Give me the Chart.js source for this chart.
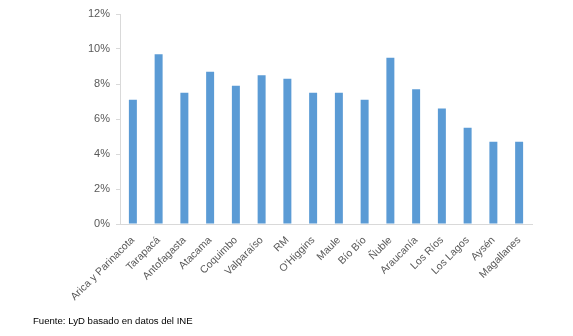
<!DOCTYPE html>
<html>
<head>
<meta charset="utf-8">
<script src="https://cdn.jsdelivr.net/npm/chart.js@4/dist/chart.umd.min.js"></script>
<style>
  html, body { margin: 0; padding: 0; background: #fff; }
  #wrap { position: relative; width: 573px; height: 336px; }
  #source { position: absolute; left: 33px; top: 315px; font: 9.6px "Liberation Sans", Arial, sans-serif; color: #000; }
</style>
</head>
<body>
<div id="wrap">
  <canvas id="chart" width="573" height="336"></canvas>
  <div id="source">Fuente: LyD basado en datos del INE</div>
</div>
<script>
// Regiones (categorías)
const regions = ['Arica y Parinacota', 'Tarapacá', 'Antofagasta', 'Atacama', 'Coquimbo', 'Valparaíso', 'RM',
  "O'Higgins", 'Maule', 'Bío Bío', 'Ñuble', 'Araucanía', 'Los Ríos', 'Los Lagos', 'Aysén', 'Magallanes'];

// Tasa de desempleo (%)
const rates = [7.1, 9.7, 7.5, 8.7, 7.9, 8.5, 8.3, 7.5, 7.5, 7.1, 9.5, 7.7, 6.6, 5.5, 4.7, 4.7];

// Eje Y
const yMin = 0;
const yMax = 12;
const yStep = 2;

const ctx = document.getElementById('chart').getContext('2d');
new Chart(ctx, {
  type: 'bar',
  data: {
    labels: regions,
    datasets: [{ data: rates, backgroundColor: '#5b9bd5', barPercentage: 0.31, categoryPercentage: 1 }]
  },
  options: {
    responsive: false,
    animation: false,
    layout: { padding: { top: 14, right: 41, left: 0, bottom: 0 } },
    plugins: { legend: { display: false }, tooltip: { enabled: false } },
    scales: {
      x: {
        grid: { display: false },
        border: { color: '#d9d9d9' },
        ticks: {
          minRotation: 45, maxRotation: 45, autoSkip: false, padding: 2,
          color: '#595959', font: { family: 'Liberation Sans', size: 10.5 }
        },
        afterFit: s => { s.height = 112; }
      },
      y: {
        min: yMin, max: yMax,
        grid: { drawOnChartArea: false, tickLength: 4, color: '#d9d9d9' },
        border: { color: '#d9d9d9' },
        ticks: {
          stepSize: yStep, padding: 6,
          color: '#595959', font: { family: 'Liberation Sans', size: 11 },
          callback: v => v + '%'
        },
        afterFit: s => { s.width = 120; }
      }
    }
  }
});
</script>
</body>
</html>
